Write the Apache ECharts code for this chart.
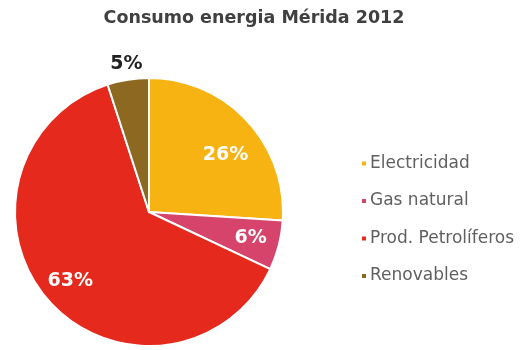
<!DOCTYPE html>
<html><head><meta charset="utf-8">
<script src="https://cdn.jsdelivr.net/npm/echarts@6/dist/echarts.min.js"></script>
<style>html,body{margin:0;padding:0;background:#fff}#c{width:520px;height:350px}</style>
</head><body><div id="c"></div>
<script>
const categories = ["Electricidad", "Gas natural", "Prod. Petrolíferos", "Renovables"];
const values = [26, 6, 63, 5];
const colors = ["#F7B312", "#D6446B", "#E5291D", "#8C6820"];
const titleText = "Consumo energia Mérida 2012";

const chart = echarts.init(document.getElementById('c'), null, {renderer: 'canvas'});
const mainData = categories.map((n, i) => ({
  name: n, value: values[i],
  itemStyle: {color: colors[i]},
  label: i === 3 ? {show: true, position: 'outside', color: '#222', fontWeight: 'bold', fontSize: 19, fontFamily: 'DejaVu Sans'} : {show: false},
  labelLine: {show: false, length: 16, length2: 0}
}));
const labelData = categories.map((n, i) => ({
  name: n, value: values[i],
  label: {show: i !== 3}
}));
chart.setOption({
  animation: false,
  title: {text: titleText, left: 249, top: 4, textAlign: 'center',
    textStyle: {fontFamily: 'DejaVu Sans', fontSize: 17.5, fontWeight: 'bold', color: '#404040'}},
  legend: {
    orient: 'vertical', left: 355, top: 150, itemWidth: 6, itemHeight: 6, itemGap: 20.5,
    icon: 'rect', data: categories,
    textStyle: {fontFamily: 'DejaVu Sans', fontSize: 17, color: '#606060', padding: [0,0,0,-2]}
  },
  series: [{
    type: 'pie', center: [149, 212], radius: 134, startAngle: 90, clockwise: true,
    avoidLabelOverlap: false,
    itemStyle: {borderColor: '#fff', borderWidth: 2},
    label: {formatter: '{c}%'},
    labelLayout: function (p) { return p.dataIndex === 3 ? {dx: 22} : {}; },
    data: mainData
  }, {
    type: 'pie', center: [149, 212], radius: [70, 134], startAngle: 90, clockwise: true,
    silent: true, legendHoverLink: false,
    itemStyle: {color: 'rgba(0,0,0,0)', borderWidth: 0},
    label: {position: 'inside', formatter: '{c}%', color: '#fff', fontWeight: 'bold', fontSize: 19, fontFamily: 'DejaVu Sans'},
    labelLine: {show: false},
    labelLayout: function (p) { return p.dataIndex === 0 ? {dy: 15} : {}; },
    data: labelData
  }]
});
</script></body></html>
